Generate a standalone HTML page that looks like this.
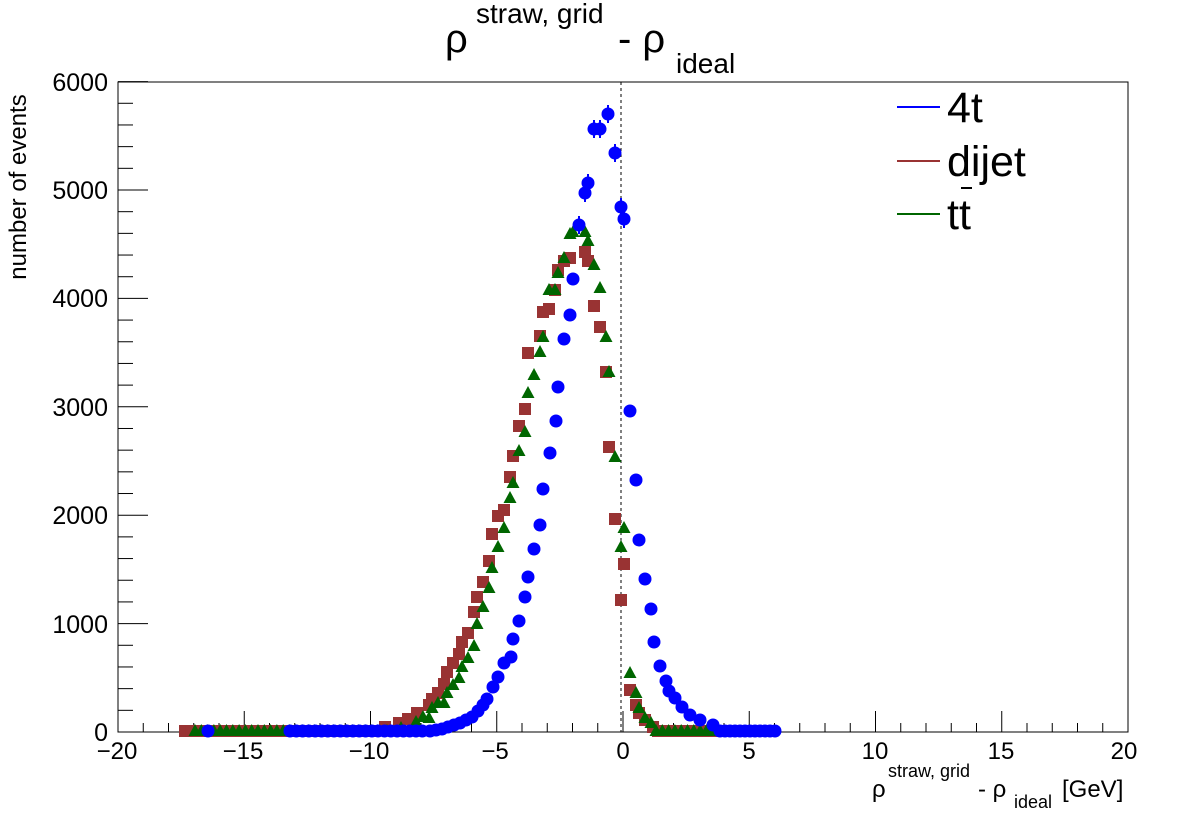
<!DOCTYPE html>
<html><head><meta charset="utf-8"><style>
html,body{margin:0;padding:0;background:#fff}
svg{display:block;font-family:"Liberation Sans",sans-serif}
</style></head><body>
<svg id="s" width="1188" height="816" xmlns="http://www.w3.org/2000/svg">
<rect x="0" y="0" width="1188" height="816" fill="#fff"/>
<g id="ax" stroke="#000" stroke-width="1" fill="none"></g>
<line x1="621" y1="82" x2="621" y2="732" stroke="#000" stroke-dasharray="3,3"/>
<g id="pts"></g>
<g font-size="24" fill="#000" text-anchor="middle">
<text x="117" y="759">−20</text><text x="243" y="759">−15</text><text x="369" y="759">−10</text>
<text x="495" y="759">−5</text><text x="623" y="759">0</text><text x="749" y="759">5</text>
<text x="875" y="759">10</text><text x="1001" y="759">15</text><text x="1124" y="759">20</text>
</g>
<g font-size="25" fill="#000" text-anchor="end">
<text x="108" y="741">0</text><text x="108" y="633">1000</text><text x="108" y="524">2000</text>
<text x="108" y="416">3000</text><text x="108" y="307">4000</text><text x="108" y="199">5000</text>
<text x="108" y="91">6000</text>
</g>
<text transform="translate(26,187) rotate(-90)" font-size="24" text-anchor="middle">number of events</text>
<text x="445" y="52" font-size="40">ρ</text>
<text x="476" y="23" font-size="28">straw, grid</text>
<text x="618" y="52" font-size="40">-  ρ</text>
<text x="676" y="73" font-size="28">ideal</text>
<text x="872" y="797" font-size="24">ρ</text>
<text x="888" y="777" font-size="18">straw, grid</text>
<text x="978" y="797" font-size="24">-  ρ</text>
<text x="1014" y="808" font-size="18">ideal</text>
<text x="1062" y="797" font-size="24">[GeV]</text>
<line x1="897" y1="107" x2="940" y2="107" stroke="#0000ff" stroke-width="2"/>
<line x1="897" y1="161" x2="940" y2="161" stroke="#993333" stroke-width="2"/>
<line x1="897" y1="214" x2="940" y2="214" stroke="#006600" stroke-width="2"/>
<text x="947" y="122" font-size="43">4t</text>
<text x="947" y="176" font-size="43">dijet</text>
<text x="947" y="229" font-size="43">tt</text>
<line x1="961" y1="188" x2="972" y2="188" stroke="#000" stroke-width="2"/>
</svg>
<script>
var NS="http://www.w3.org/2000/svg";
function el(p,n,a){var e=document.createElementNS(NS,n);for(var k in a)e.setAttribute(k,a[k]);p.appendChild(e);return e;}
var ax=document.getElementById('ax');
el(ax,'rect',{x:118,y:82,width:1010,height:650});
for(var i=0;i<=40;i++){var x=118+i*25.25;var L=(i%5==0)?21:9;el(ax,'line',{x1:x,y1:732,x2:x,y2:732-L});}
for(var i=0;i<=30;i++){var y=732-i*21.68;var L=(i%5==0)?30:15;el(ax,'line',{x1:118,y1:y,x2:118+L,y2:y});}
var P=document.getElementById('pts');
function rng(a,b,s){var r=[];for(var x=a;x<=b;x+=s)r.push([x,731]);return r;}
var blue=[[208,731]].concat(rng(290,425,6.3),[[430,731],[436,730],[442,729],[448,727],[454,725],[460,723],[466,720],[472,717],[478,711],[483,705],[487,699],[493,687],[498,677],[504,663],[511,657],[513,639],[519,621],[525,597],[528,577],[534,549],[540,525],[543,489],[550,453],[556,421],[558,387],[564,339],[570,315],[573,279],[579,225],[585,193],[588,183],[594,129],[600,129],[608,114],[615,153],[621,207],[624,219],[630,411],[636,480],[639,540],[645,579],[651,609],[654,642],[660,666],[666,681],[669,691],[675,698],[682,707],[690,715],[700,720],[713,725]],rng(720,778,5));
var red=rng(185,380,6.3).concat([[385,727],[399,723],[408,719],[417,713],[429,705],[432,699],[438,693],[444,684],[447,672],[453,663],[459,654],[462,642],[468,633],[474,612],[477,597],[483,582],[489,561],[492,534],[498,516],[504,510],[510,477],[513,456],[519,426],[525,409],[528,353],[540,336],[543,312],[549,309],[555,290],[558,270],[564,261],[570,258],[585,252],[588,261],[594,306],[600,327],[606,372],[609,447],[615,519],[624,564],[621,600],[630,690],[636,705],[639,713],[645,720],[653,727]],rng(658,715,6.3));
var green=rng(195,382,6.3).concat([[387,731],[401,728],[416,722],[423,717],[429,718],[432,708],[438,703],[444,703],[447,693],[453,685],[459,678],[462,667],[468,658],[474,646],[477,624],[483,607],[489,588],[492,568],[498,547],[504,528],[510,498],[513,483],[519,451],[525,432],[528,393],[534,375],[540,352],[543,337],[549,290],[555,290],[558,273],[564,258],[570,234],[573,232],[579,225],[585,232],[588,241],[594,265],[600,288],[606,337],[609,372],[615,457],[624,528],[621,547],[630,673],[636,693],[639,708],[645,718],[651,723]],rng(656,715,6.3));
red.forEach(function(p){el(P,'rect',{x:p[0]-6,y:p[1]-6,width:12,height:12,fill:'#993333'});});
green.forEach(function(p){var x=p[0],y=p[1];el(P,'polygon',{points:(x-6.5)+','+(y+5)+' '+(x+6.5)+','+(y+5)+' '+x+','+(y-7),fill:'#006600'});});
blue.forEach(function(p){el(P,'circle',{cx:p[0],cy:p[1],r:6.5,fill:'#0000ff'});if(p[1]<250)el(P,'line',{x1:p[0],y1:p[1]-9,x2:p[0],y2:p[1]+9,stroke:'#0000ff','stroke-width':2});});
</script>
</body></html>
